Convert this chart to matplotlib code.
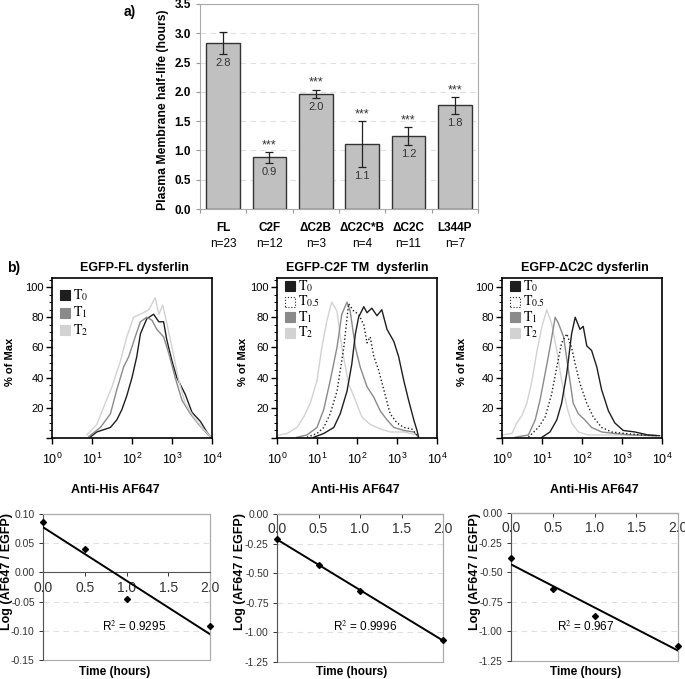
import numpy as np
import matplotlib.pyplot as plt
from matplotlib.patches import Rectangle

plt.rcParams['font.family'] = ['Liberation Sans', 'DejaVu Sans']
plt.rcParams['mathtext.fontset'] = 'stix'

# ==== panel a) data ====
bar_cats = ['FL', 'C2F', 'ΔC2B', 'ΔC2C*B', 'ΔC2C', 'L344P']
bar_n = ['n=23', 'n=12', 'n=3', 'n=4', 'n=11', 'n=7']
bar_vals = [2.83, 0.88, 1.97, 1.11, 1.24, 1.77]
bar_errs = [0.19, 0.09, 0.07, 0.40, 0.155, 0.15]
bar_labels = ['2.8', '0.9', '2.0', '1.1', '1.2', '1.8']
bar_stars = ['', '***', '***', '***', '***', '***']

# ==== panel b) histograms (x = log10 fluorescence, y = % of max) ====
fl_t0_x = [0.96, 1.12, 1.46, 1.62, 1.75, 1.87, 2.0, 2.12, 2.21, 2.37, 2.54, 2.67, 2.79, 2.87, 3.0, 3.12, 3.33, 3.5, 3.71, 3.87, 3.97]
fl_t0_y = [0.7, 4, 7, 12, 19, 28, 40, 54, 69, 79, 82, 77, 77, 65, 51, 40, 29, 17, 11, 4, 0.5]
fl_t1_x = [0.92, 1.21, 1.46, 1.62, 1.79, 1.92, 2.08, 2.21, 2.37, 2.5, 2.62, 2.79, 2.92, 3.08, 3.25, 3.46, 3.67, 3.87, 3.97]
fl_t1_y = [1, 7, 16, 32, 47, 54, 67, 77, 80, 78, 72, 67, 56, 40, 25, 16, 9, 3, 0.5]
fl_t2_x = [0.87, 1.12, 1.33, 1.5, 1.71, 1.87, 2.04, 2.21, 2.42, 2.58, 2.67, 2.77, 2.87, 3.0, 3.17, 3.33, 3.54, 3.75, 3.96]
fl_t2_y = [2, 9, 23, 34, 51, 67, 80, 82, 85, 93, 82, 88, 76, 60, 38, 23, 14, 7, 1]

c2f_t0_x = [0.92, 1.17, 1.42, 1.58, 1.75, 1.87, 1.96, 2.04, 2.17, 2.25, 2.37, 2.5, 2.62, 2.75, 2.92, 3.04, 3.17, 3.29, 3.42, 3.5, 3.54]
c2f_t0_y = [0.5, 3, 7, 16, 31, 49, 69, 80, 87, 83, 86, 81, 85, 72, 64, 54, 38, 25, 12, 5, 0.5]
c2f_t05_x = [0.75, 1.0, 1.17, 1.33, 1.5, 1.67, 1.79, 1.92, 2.04, 2.17, 2.25, 2.33, 2.42, 2.54, 2.67, 2.83, 3.0, 3.17, 3.37, 3.5]
c2f_t05_y = [0.5, 3, 7, 16, 31, 60, 89, 84, 82, 75, 63, 67, 54, 45, 32, 16, 10, 7, 6, 2]
c2f_t1_x = [0.5, 0.75, 1.0, 1.17, 1.33, 1.5, 1.62, 1.75, 1.83, 1.96, 2.08, 2.25, 2.42, 2.58, 2.75, 2.92, 3.17, 3.42, 3.54]
c2f_t1_y = [0.5, 2, 7, 19, 38, 60, 82, 90, 84, 60, 47, 34, 27, 18, 12, 7, 5, 4, 0.5]
c2f_t2_x = [0.0, 0.25, 0.5, 0.67, 0.83, 1.0, 1.12, 1.25, 1.37, 1.5, 1.62, 1.79, 1.96, 2.12, 2.33, 2.58, 2.83, 3.17, 3.5]
c2f_t2_y = [1.5, 3, 7, 14, 23, 38, 60, 78, 90, 84, 60, 36, 25, 14, 9, 6, 4, 4, 2]

dc2c_t0_x = [1.0, 1.2, 1.37, 1.49, 1.62, 1.74, 1.83, 1.95, 2.03, 2.12, 2.24, 2.37, 2.49, 2.66, 2.82, 3.03, 3.32, 3.65, 3.94]
dc2c_t0_y = [0.5, 4, 12, 23, 43, 69, 80, 72, 74, 61, 58, 47, 32, 18, 10, 5, 4, 2, 1.5]
dc2c_t05_x = [0.66, 0.91, 1.08, 1.24, 1.37, 1.49, 1.62, 1.74, 1.83, 1.95, 2.12, 2.28, 2.49, 2.74, 3.07, 3.49, 3.9]
dc2c_t05_y = [0.5, 7, 14, 29, 47, 63, 69, 60, 49, 36, 23, 14, 7, 4, 3, 2, 1.5]
dc2c_t1_x = [0.33, 0.66, 0.83, 0.95, 1.08, 1.2, 1.33, 1.41, 1.54, 1.66, 1.78, 1.91, 2.07, 2.24, 2.49, 2.82, 3.24, 3.82]
dc2c_t1_y = [0.5, 2, 12, 25, 43, 60, 80, 76, 67, 45, 23, 16, 12, 7, 4, 3, 2, 1.5]
dc2c_t2_x = [0.0, 0.25, 0.37, 0.5, 0.62, 0.75, 0.87, 1.0, 1.12, 1.24, 1.37, 1.49, 1.62, 1.74, 1.91, 2.16, 2.57, 3.15, 3.82]
dc2c_t2_y = [2, 3, 10, 15, 23, 38, 57, 74, 85, 76, 58, 38, 21, 10, 4, 2, 2, 2, 2]

# ==== panel b) decay plots ====
time_h = [0.0, 0.5, 1.0, 2.0]
fl_log = [0.087, 0.040, -0.046, -0.092]
c2f_log = [-0.21, -0.43, -0.65, -1.065]
dc2c_log = [-0.38, -0.64, -0.87, -1.12]
r2_texts = ['R$^2$ = 0.9295', 'R$^2$ = 0.9996', 'R$^2$ = 0.967']

W, H = 685, 679
fig = plt.figure(figsize=(W / 100, H / 100), dpi=100)


def px_axes(x0, y0, x1, y1):
    return fig.add_axes([x0 / W, 1 - y1 / H, (x1 - x0) / W, (y1 - y0) / H])


def ftext(x, y, s, **kw):
    fig.text(x / W, 1 - y / H, s, **kw)


# ==== a) bar chart ====
ax = px_axes(200, 4, 478, 209)
pos = np.arange(len(bar_cats))
ax.bar(pos, bar_vals, width=0.73, color='#c0c0c0', edgecolor='#333333', linewidth=1.0, zorder=2)
ax.errorbar(pos, bar_vals, yerr=bar_errs, fmt='none', ecolor='#222222', elinewidth=0.9, capsize=3, capthick=0.9, zorder=3)
for i in range(len(pos)):
    ax.text(pos[i], bar_vals[i] - bar_errs[i] - 0.15, bar_labels[i], ha='center', va='center', fontsize=8, color='#333333', zorder=4)
    if bar_stars[i]:
        ax.text(pos[i], bar_vals[i] + bar_errs[i] + 0.01, bar_stars[i], ha='center', va='bottom', fontsize=9, color='#333333')
    ax.text(pos[i], -0.095, bar_cats[i], transform=ax.get_xaxis_transform(), ha='center', va='center', fontsize=8.5, fontweight='bold')
    ax.text(pos[i], -0.17, bar_n[i], transform=ax.get_xaxis_transform(), ha='center', va='center', fontsize=8.5)
ax.set_xlim(-0.5, 5.5)
ax.set_ylim(0, 3.5)
ax.set_yticks(np.arange(0, 3.51, 0.5))
ax.set_yticklabels(['%.1f' % v for v in np.arange(0, 3.51, 0.5)], fontsize=8.5, fontweight='bold')
ax.set_xticks(np.arange(-0.5, 5.6, 1.0))
ax.set_xticklabels([])
ax.tick_params(axis='both', length=3, color='#999999', width=0.8)
for s in ax.spines.values():
    s.set_color('#aaaaaa')
ax.yaxis.grid(True, linestyle=(0, (5, 4)), color='#e0e0e0', linewidth=0.8)
ax.set_axisbelow(True)
ftext(163, 110, 'Plasma Membrane half-life (hours)', rotation=90, ha='center', va='center', fontsize=8.8, fontweight='bold')
ftext(130, 12, 'a)', ha='center', va='center', fontsize=10, fontweight='bold')
ftext(14, 268, 'b)', ha='center', va='center', fontsize=10, fontweight='bold')

# ==== b) histograms ====
C0, C1, C2 = '#1e1e1e', '#8a8a8a', '#d2d2d2'
hist_panels = [
    (52, 'EGFP-FL dysferlin', 134, 10, 115,
     [(fl_t0_x, fl_t0_y, C0, '-'), (fl_t1_x, fl_t1_y, C1, '-'), (fl_t2_x, fl_t2_y, C2, '-')],
     [('0', C0, '-'), ('1', C1, '-'), ('2', C2, '-')], 17, 17.5),
    (277, 'EGFP-C2F TM  dysferlin', 357, 243, 355,
     [(c2f_t2_x, c2f_t2_y, C2, '-'), (c2f_t1_x, c2f_t1_y, C1, '-'), (c2f_t05_x, c2f_t05_y, C0, ':'), (c2f_t0_x, c2f_t0_y, C0, '-')],
     [('0', C0, '-'), ('0.5', 'white', ':'), ('1', C1, '-'), ('2', C2, '-')], 8, 15.5),
    (502, 'EGFP-ΔC2C dysferlin', 585, 462, 594,
     [(dc2c_t2_x, dc2c_t2_y, C2, '-'), (dc2c_t1_x, dc2c_t1_y, C1, '-'), (dc2c_t05_x, dc2c_t05_y, C0, ':'), (dc2c_t0_x, dc2c_t0_y, C0, '-')],
     [('0', C0, '-'), ('0.5', 'white', ':'), ('1', C1, '-'), ('2', C2, '-')], 8, 15.5),
]
for x0, title, tx, ylx, xlx, curves, leg, leg_top, leg_step in hist_panels:
    ax = px_axes(x0, 278, x0 + 160, 438)
    for cx, cy, col, ls in curves:
        ax.plot(10 ** np.array(cx), cy, color=col, linestyle=ls, linewidth=1.0)
    ax.set_xscale('log')
    ax.set_xlim(1, 1e4)
    ax.set_ylim(0, 106)
    ax.set_xticks([1, 10, 100, 1000, 10000])
    ax.set_xticklabels([r'$\mathregular{10^{%d}}$' % k for k in range(5)], fontsize=9)
    ax.set_yticks([0, 20, 40, 60, 80, 100])
    ax.set_yticklabels(['', '20', '40', '60', '80', '100'], fontsize=8)
    ax.set_yticks(np.arange(0, 106, 5), minor=True)
    ax.tick_params(axis='both', which='major', length=4, width=1.0, pad=2)
    ax.tick_params(axis='x', which='major', pad=6)
    ax.tick_params(axis='both', which='minor', length=2, width=0.7)
    for s in ax.spines.values():
        s.set_linewidth(1.2)
    for k, (sub, col, ls) in enumerate(leg):
        yy = 1 - (leg_top + k * leg_step) / 160
        ax.add_patch(Rectangle((8 / 160, yy - 5 / 160), 10 / 160, 10 / 160, transform=ax.transAxes,
                               facecolor=col, edgecolor='#222222' if ls == ':' else col,
                               linestyle=ls, linewidth=0.8))
        ax.text(21 / 160, yy, r'$\mathrm{T}_{%s}$' % sub, transform=ax.transAxes, ha='left', va='center', fontsize=10)
    ftext(tx, 268, title, ha='center', va='center', fontsize=9, fontweight='bold')
    ftext(ylx, 362, '% of Max', rotation=90, ha='center', va='center', fontsize=8, fontweight='bold')
    ftext(xlx, 490, 'Anti-His AF647', ha='center', va='center', fontsize=9, fontweight='bold')

# ==== b) decay plots ====
scatter_panels = [
    ((43, 514, 210, 660), fl_log, (-0.15, 0.10), 0.05, 7, 115, (102, 627)),
    ((277, 514, 443, 662), c2f_log, (-1.25, 0.0), 0.25, 240, 352, (333, 627)),
    ((511, 513, 678, 661), dc2c_log, (-1.25, 0.0), 0.25, 475, 586, (557, 627)),
]
for k, (rect, vals, ylim, step, ylx, xlx, rpos) in enumerate(scatter_panels):
    ax = px_axes(*rect)
    slope, icpt = np.polyfit(time_h, vals, 1)
    xs = np.array([0.0, 2.0])
    ax.plot(xs, icpt + slope * xs, color='black', linewidth=1.4, zorder=3)
    ax.plot(time_h, vals, linestyle='none', marker='D', markersize=3, color='black', clip_on=False, zorder=4)
    ax.set_xlim(0, 2)
    ax.set_ylim(*ylim)
    yt = np.arange(ylim[0], ylim[1] + step / 2, step)
    ax.set_yticks(yt)
    ax.set_yticklabels(['%.2f' % v if abs(v) > 1e-9 else '0.00' for v in yt], fontsize=7.5)
    ax.set_xticks([0, 0.5, 1.0, 1.5, 2.0])
    ax.set_xticklabels(['0.0', '0.5', '1.0', '1.5', '2.0'], fontsize=7.5)
    ax.spines['bottom'].set_position(('data', 0))
    ax.spines['bottom'].set_color('#555555')
    ax.spines['left'].set_color('#555555')
    ax.spines['top'].set_color('#aaaaaa')
    ax.spines['right'].set_color('#aaaaaa')
    ax.add_patch(Rectangle((0, 0), 1, 1, transform=ax.transAxes, fill=False, edgecolor='#aaaaaa', linewidth=0.8, clip_on=False))
    ax.tick_params(axis='both', length=3, width=0.7, colors='#333333', pad=3)
    ax.yaxis.grid(True, linestyle=(0, (5, 4)), color='#e0e0e0', linewidth=0.8)
    ax.set_axisbelow(True)
    ftext(rpos[0], rpos[1], r2_texts[k], ha='left', va='center', fontsize=8.5)
    ftext(ylx, 572, 'Log (AF647 / EGFP)', rotation=90, ha='center', va='center', fontsize=9, fontweight='bold')
    ftext(xlx, 672, 'Time (hours)', ha='center', va='center', fontsize=8.5, fontweight='bold')

fig.savefig('out.png', dpi=100)
